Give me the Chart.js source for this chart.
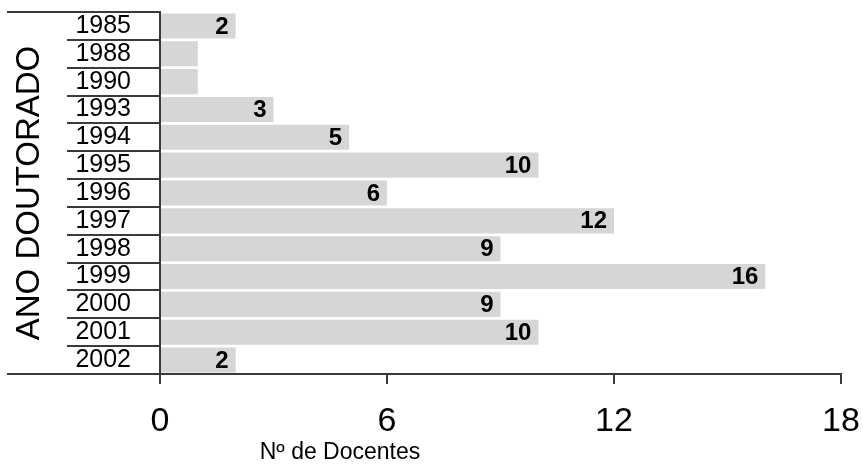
<!DOCTYPE html>
<html lang="pt">
<head>
    <meta charset="UTF-8">
    <title>Ano de Doutorado</title>
    <script src="https://cdn.jsdelivr.net/npm/chart.js"></script>
    <style>
        html, body { margin: 0; padding: 0; background: #fff; }
        #wrap { width: 863px; height: 466px; position: relative; }
    </style>
</head>
<body>
    <div id="wrap"><canvas id="barChart"></canvas></div>

    <script>
        // dados
        const anos = ['1985', '1988', '1990', '1993', '1994', '1995', '1996', '1997', '1998', '1999', '2000', '2001', '2002'];
        const docentes = [2, 1, 1, 3, 5, 10, 6, 12, 9, 16, 9, 10, 2];
        const ticksX = [0, 6, 12, 18];

        const fonte = "'Liberation Sans', Arial, sans-serif";
        const linha = '#3a3a3a';

        // linhas da "tabela" à esquerda + título do eixo x + rótulos nas barras
        const extras = {
            id: 'extras',
            afterDraw(chart) {
                const ctx = chart.ctx;
                const area = chart.chartArea;
                ctx.save();
                ctx.strokeStyle = linha;
                ctx.lineWidth = 2;
                ctx.beginPath();
                ctx.moveTo(7, area.top);
                ctx.lineTo(area.left, area.top);
                ctx.moveTo(7, area.bottom);
                ctx.lineTo(area.left, area.bottom);
                ctx.stroke();

                ctx.fillStyle = '#000';
                ctx.font = '23px ' + fonte;
                ctx.textAlign = 'center';
                ctx.textBaseline = 'middle';
                ctx.fillText('Nº de Docentes', 340, 453);
                ctx.restore();
            },
            afterDatasetsDraw(chart) {
                const ctx = chart.ctx;
                const meta = chart.getDatasetMeta(0);
                ctx.save();
                ctx.fillStyle = '#000';
                ctx.font = 'bold 24px ' + fonte;
                ctx.textAlign = 'right';
                ctx.textBaseline = 'middle';
                meta.data.forEach((bar, i) => {
                    if (docentes[i] < 2) return;
                    ctx.fillText(String(docentes[i]), bar.x - 7, bar.y + 1);
                });
                ctx.restore();
            }
        };

        new Chart(document.getElementById('barChart'), {
            type: 'bar',
            data: {
                labels: anos,
                datasets: [{
                    data: docentes,
                    backgroundColor: '#d6d6d6',
                    borderWidth: 0,
                    barPercentage: 0.9,
                    categoryPercentage: 1.0
                }]
            },
            options: {
                indexAxis: 'y',
                responsive: true,
                maintainAspectRatio: false,
                animation: false,
                layout: { padding: { top: 12, right: 22, left: 0, bottom: 0 } },
                plugins: {
                    legend: { display: false },
                    tooltip: { enabled: false }
                },
                scales: {
                    x: {
                        min: 0,
                        max: 18,
                        afterBuildTicks: (scale) => { scale.ticks = ticksX.map(v => ({ value: v })); },
                        afterFit: (scale) => {
                            scale.height = 92;
                            scale.paddingLeft = 0;
                            scale.paddingRight = 0;
                        },
                        grid: { drawOnChartArea: false, drawTicks: true, tickLength: 10, color: linha, lineWidth: 2 },
                        border: { display: true, color: linha, width: 2 },
                        ticks: { color: '#000', font: { size: 34, family: fonte }, padding: 17, maxRotation: 0 }
                    },
                    y: {
                        afterFit: (scale) => { scale.width = 160; },
                        grid: { drawOnChartArea: false, drawTicks: true, tickLength: 93, offset: true, color: linha, lineWidth: 2 },
                        border: { display: true, color: linha, width: 2 },
                        ticks: { color: '#000', font: { size: 25, family: fonte }, padding: -64, autoSkip: false },
                        title: {
                            display: true,
                            text: 'ANO DOUTORADO',
                            color: '#000',
                            font: { size: 33, family: fonte },
                            padding: { top: 10, bottom: 0 }
                        }
                    }
                }
            },
            plugins: [extras]
        });
    </script>
</body>
</html>
